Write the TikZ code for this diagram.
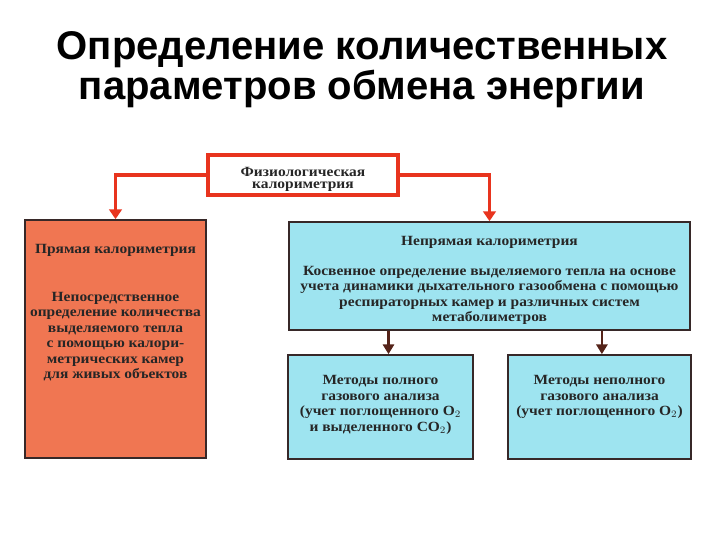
\documentclass[tikz,border=0pt]{standalone}
\usepackage{fontspec}
\setmainfont{Liberation Serif}
\newfontfamily\boxfont[FakeStretch=1.1]{Liberation Serif}
\newfontfamily\titlefont{Liberation Sans}
\usepackage{tikz}
\usetikzlibrary{arrows.meta,positioning}

\definecolor{salmonfill}{RGB}{240,118,82}
\definecolor{cyanfill}{RGB}{158,228,240}
\definecolor{boxline}{RGB}{55,40,40}
\definecolor{redline}{RGB}{232,52,30}
\definecolor{glow}{RGB}{250,215,120}
\definecolor{darkarrow}{RGB}{85,35,25}

\tikzset{
    boxtext/.style={font=\boxfont\bfseries\fontsize{10}{11}\selectfont, align=center, inner sep=0pt, text=black!85},
    redbox/.style={draw=boxline, line width=1.2pt, fill=salmonfill, inner sep=0pt},
    bluebox/.style={draw=boxline, line width=1.2pt, fill=cyanfill, inner sep=0pt},
    physbox/.style={draw=redline, line width=3pt, fill=white, inner sep=0pt},
    redarrow/.style={draw=redline, line width=2.2pt, -{Triangle[width=9pt,length=7pt]}},
    darkarr/.style={draw=darkarrow, line width=1.8pt, -{Triangle[width=8pt,length=7pt]}}
}

\begin{document}
\begin{tikzpicture}
    \useasboundingbox (0,0) rectangle (18,-13.5);
    % Title
    \node[font=\titlefont\bfseries\fontsize{28.5}{28.5}\selectfont, align=center, inner sep=0pt] (title) at (9.05,-1.75)
        {Определение количественных\\параметров обмена энергии};
    % Boxes
    \node[physbox, minimum width=4.75cm, minimum height=1cm] (phys) at (7.575,-4.375) {};
    \node[redbox, minimum width=4.525cm, minimum height=5.95cm] (direct) at (2.8875,-8.475) {};
    \node[bluebox, minimum width=10.025cm, minimum height=2.7cm] (indirect) at (12.2375,-6.9) {};
    \node[bluebox, minimum width=4.625cm, minimum height=2.6cm] (full) at (9.5125,-10.175) {};
    \node[bluebox, minimum width=4.575cm, minimum height=2.6cm] (partial) at (14.9875,-10.175) {};
    % Texts
    \node[boxtext, font=\boxfont\bfseries\fontsize{10}{8.6}\selectfont] (physlabel) at ([yshift=-0.1cm]phys.center)
        {Физиологическая\\калориметрия};
    \node[boxtext, below=0.62cm of direct.north] (directlabel)
        {Прямая калориметрия\\[23pt]Непосредственное\\определение количества\\выделяемого тепла\\с помощью калори-\\метрических камер\\для живых объектов};
    \node[boxtext, below=0.38cm of indirect.north] (indirectlabel)
        {Непрямая калориметрия\\[10pt]Косвенное определение выделяемого тепла на основе\\учета динамики дыхательного газообмена с помощью\\респираторных камер и различных систем\\метаболиметров};
    \node[boxtext, below=0.53cm of full.north] (fulllabel)
        {Методы полного\\газового анализа\\(учет поглощенного O$_2$\\и выделенного CO$_2$)};
    \node[boxtext, below=0.53cm of partial.north] (partiallabel)
        {Методы неполного\\газового анализа\\(учет поглощенного O$_2$)};
    % Connectors
    \coordinate (fulltop) at ([xshift=0.2cm]full.north);
    \coordinate (partialtop) at ([xshift=0.06cm]partial.north);
    \draw[redarrow] (phys.west) -| (direct.north);
    \draw[redarrow] (phys.east) -| (indirect.north);
    \draw[darkarr] (indirect.south -| fulltop) -- (fulltop);
    \draw[darkarr] (indirect.south -| partialtop) -- (partialtop);
\end{tikzpicture}
\end{document}
